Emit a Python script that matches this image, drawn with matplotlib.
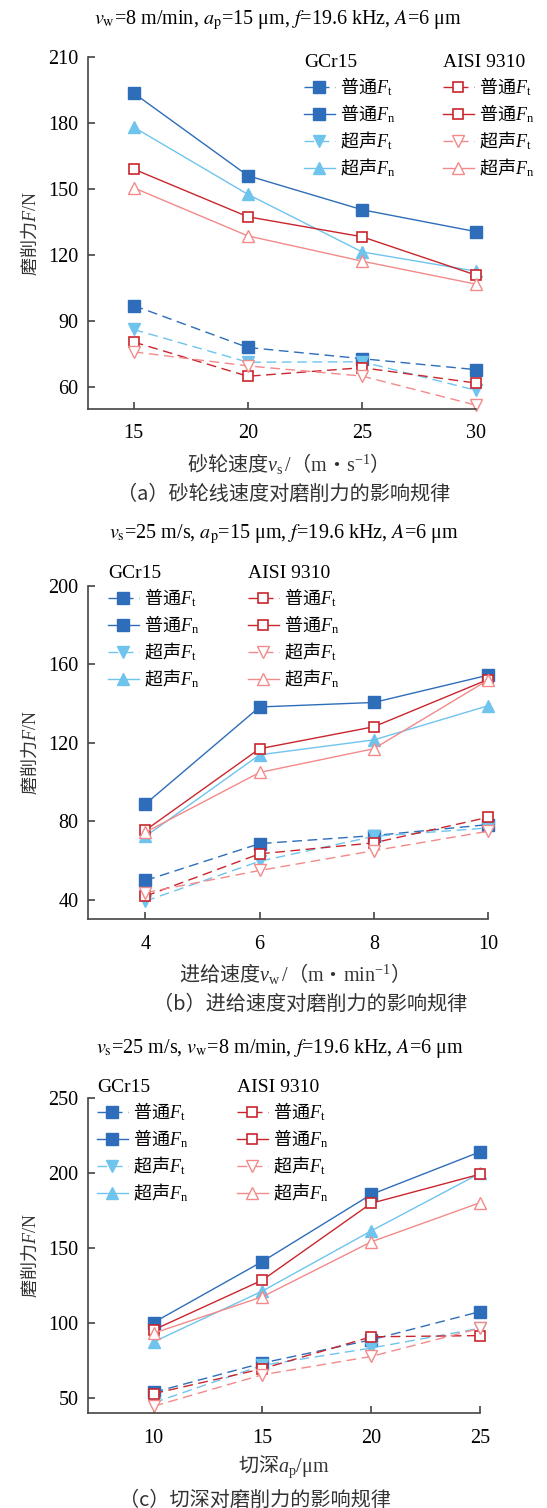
import matplotlib.pyplot as plt

plt.rcParams['font.family'] = ['Liberation Serif', 'Noto Sans CJK SC']
# CJK + math labels: the text's own font carries the Chinese, sf is used for upright serif latin
plt.rcParams['mathtext.fontset'] = 'custom'
plt.rcParams['mathtext.rm'] = 'Liberation Serif'
plt.rcParams['mathtext.it'] = 'Liberation Serif:italic'
plt.rcParams['mathtext.sf'] = 'Liberation Serif'
plt.rcParams['mathtext.bf'] = 'Liberation Serif:bold'
plt.rcParams['font.size'] = 13
CJK = 'Noto Sans CJK SC'

# (a) wheel speed
vs = [15, 20, 25, 30]
a_gcr_ft = [97.1, 78.0, 72.9, 67.9]
a_gcr_fn = [193.8, 156.2, 140.7, 130.7]
a_gcr_us_ft = [86.2, 71.3, 71.5, 58.5]
a_gcr_us_fn = [178.3, 147.7, 121.5, 112.7]
a_aisi_ft = [80.5, 64.9, 68.8, 61.8]
a_aisi_fn = [159.2, 137.5, 128.4, 110.9]
a_aisi_us_ft = [76.0, 69.6, 65.0, 51.7]
a_aisi_us_fn = [150.7, 128.8, 117.3, 106.8]

# (b) feed speed
vw = [4, 6, 8, 10]
b_gcr_ft = [49.8, 68.6, 72.7, 78.3]
b_gcr_fn = [88.8, 138.3, 140.6, 154.5]
b_gcr_us_ft = [39.3, 59.6, 72.3, 76.6]
b_gcr_us_fn = [72.3, 113.9, 121.5, 138.9]
b_aisi_ft = [41.8, 63.4, 69.0, 82.0]
b_aisi_fn = [75.4, 117.0, 128.2, 152.3]
b_aisi_us_ft = [43.6, 54.9, 65.0, 74.9]
b_aisi_us_fn = [74.4, 104.9, 117.0, 152.0]

# (c) depth of cut
ap = [10, 15, 20, 25]
c_gcr_ft = [54.0, 73.5, 89.0, 107.8]
c_gcr_fn = [100.5, 141.2, 185.9, 214.3]
c_gcr_us_ft = [47.0, 72.0, 83.5, 96.7]
c_gcr_us_fn = [87.6, 121.5, 161.6, 200.0]
c_aisi_ft = [53.1, 69.7, 91.0, 91.8]
c_aisi_fn = [95.6, 128.8, 180.0, 199.4]
c_aisi_us_ft = [44.7, 65.7, 77.9, 96.7]
c_aisi_us_fn = [93.4, 117.7, 154.3, 180.4]

labels = [r'普通$F_\mathsf{t}$', r'普通$F_\mathsf{n}$', r'超声$F_\mathsf{t}$', r'超声$F_\mathsf{n}$']

blue = '#2e6db9'
lblue = '#6fc4ee'
red = '#c9252d'
pink = '#f28a8a'
dash = (0, (7, 4))

styles = [
    dict(color=blue, ls=dash, marker='s', ms=8, mfc=blue),
    dict(color=blue, ls='-', marker='s', ms=8, mfc=blue),
    dict(color=lblue, ls=dash, marker='v', ms=9, mfc=lblue),
    dict(color=lblue, ls='-', marker='^', ms=9, mfc=lblue),
    dict(color=red, ls=dash, marker='s', ms=6.5, mfc='white', mew=1.2),
    dict(color=red, ls='-', marker='s', ms=6.5, mfc='white', mew=1.2),
    dict(color=pink, ls=dash, marker='v', ms=9, mfc='white', mew=1.0),
    dict(color=pink, ls='-', marker='^', ms=9, mfc='white', mew=1.0),
]

W, H = 547, 1508
fig = plt.figure(figsize=(W / 100, H / 100), dpi=100)

panels = [
    dict(rect=[88, 57.5, 476.3, 409], x=vs,
         ys=[a_gcr_ft, a_gcr_fn, a_gcr_us_ft, a_gcr_us_fn,
             a_aisi_ft, a_aisi_fn, a_aisi_us_ft, a_aisi_us_fn],
         xlim=(13, 30), xticks=[15, 20, 25, 30],
         ylim=(50, 210), yticks=[60, 90, 120, 150, 180, 210],
         title=r'$v_\mathrm{w}$=8 m/min, $a_\mathrm{p}$=15 μm, $f$=19.6 kHz, $A$=6 μm',
         title_y=20, title_x=278,
         xlabel=r'砂轮速度$v_\mathsf{s}\,\mathsf{/}$（$\mathsf{m}$・$\mathsf{s}^{\mathsf{-1}}$）',
         xlabel_y=463,
         caption='（a）砂轮线速度对磨削力的影响规律', caption_y=494, caption_x=284,
         leg1=(304, 54), leg2=(443, 54)),
    dict(rect=[88.3, 586, 488, 919.3], x=vw,
         ys=[b_gcr_ft, b_gcr_fn, b_gcr_us_ft, b_gcr_us_fn,
             b_aisi_ft, b_aisi_fn, b_aisi_us_ft, b_aisi_us_fn],
         xlim=(3, 10), xticks=[4, 6, 8, 10],
         ylim=(30, 200), yticks=[40, 80, 120, 160, 200],
         title=r'$v_\mathrm{s}$=25 m/s, $a_\mathrm{p}$=15 μm, $f$=19.6 kHz, $A$=6 μm',
         title_y=534, title_x=284,
         xlabel=r'进给速度$v_\mathsf{w}\,\mathsf{/}$（$\mathsf{m}$・$\mathsf{min}^{\mathsf{-1}}$）',
         xlabel_y=974,
         caption='（b）进给速度对磨削力的影响规律', caption_y=1004, caption_x=310,
         leg1=(108, 565), leg2=(248, 565)),
    dict(rect=[88.3, 1098.3, 480, 1413.3], x=ap,
         ys=[c_gcr_ft, c_gcr_fn, c_gcr_us_ft, c_gcr_us_fn,
             c_aisi_ft, c_aisi_fn, c_aisi_us_ft, c_aisi_us_fn],
         xlim=(7, 25), xticks=[10, 15, 20, 25],
         ylim=(40, 250), yticks=[50, 100, 150, 200, 250],
         title=r'$v_\mathrm{s}$=25 m/s, $v_\mathrm{w}$=8 m/min, $f$=19.6 kHz, $A$=6 μm',
         title_y=1048, title_x=280,
         xlabel=r'切深$a_\mathsf{p}\mathsf{/μm}$', xlabel_y=1467,
         caption='（c）切深对磨削力的影响规律', caption_y=1500, caption_x=255,
         leg1=(97, 1079), leg2=(237, 1079)),
]

for p in panels:
    l, t, r, b = p['rect']
    ax = fig.add_axes([l / W, 1 - b / H, (r - l) / W, (b - t) / H])
    lines = []
    for y, st in zip(p['ys'], styles):
        ln, = ax.plot(p['x'], y, lw=1.0, clip_on=False, **st)
        lines.append(ln)
    ax.set_xlim(*p['xlim'])
    ax.set_ylim(*p['ylim'])
    ax.set_xticks(p['xticks'])
    ax.set_yticks(p['yticks'])
    for s in ['top', 'right']:
        ax.spines[s].set_visible(False)
    for s in ['left', 'bottom']:
        ax.spines[s].set_color('#444444')
        ax.spines[s].set_linewidth(1.2)
    ax.tick_params(direction='in', length=5, width=1.2, color='#444444',
                   labelsize=14.5)
    ax.tick_params(axis='x', pad=11)
    ax.tick_params(axis='y', pad=7)
    ax.set_ylabel(r'磨削力$F\mathsf{/N}$', fontsize=13, labelpad=6, family=CJK,
                  color='#333333')

    common = dict(loc='upper left', frameon=False, borderpad=0, borderaxespad=0,
                  alignment='left', handlelength=1.7, handletextpad=0.3,
                  labelspacing=0.24, prop=dict(family=CJK, size=13),
                  title_fontsize=14, bbox_transform=fig.transFigure)
    x1, y1 = p['leg1']
    leg1 = ax.legend(lines[:4], labels, title='GCr15',
                     bbox_to_anchor=(x1 / W, 1 - y1 / H), **common)
    ax.add_artist(leg1)
    x2, y2 = p['leg2']
    ax.legend(lines[4:], labels, title='AISI 9310',
              bbox_to_anchor=(x2 / W, 1 - y2 / H), **common)

    fig.text(p['title_x'] / W, 1 - p['title_y'] / H, p['title'],
             ha='center', va='center', fontsize=14.5, math_fontfamily='stix')
    fig.text((l + r) / 2 / W, 1 - p['xlabel_y'] / H, p['xlabel'],
             ha='center', va='center', fontsize=14.5, family=CJK, color='#333333')
    fig.text(p['caption_x'] / W, 1 - p['caption_y'] / H, p['caption'],
             ha='center', va='center', fontsize=14.5, family=CJK, color='#333333')

plt.savefig('out.png', dpi=100)
